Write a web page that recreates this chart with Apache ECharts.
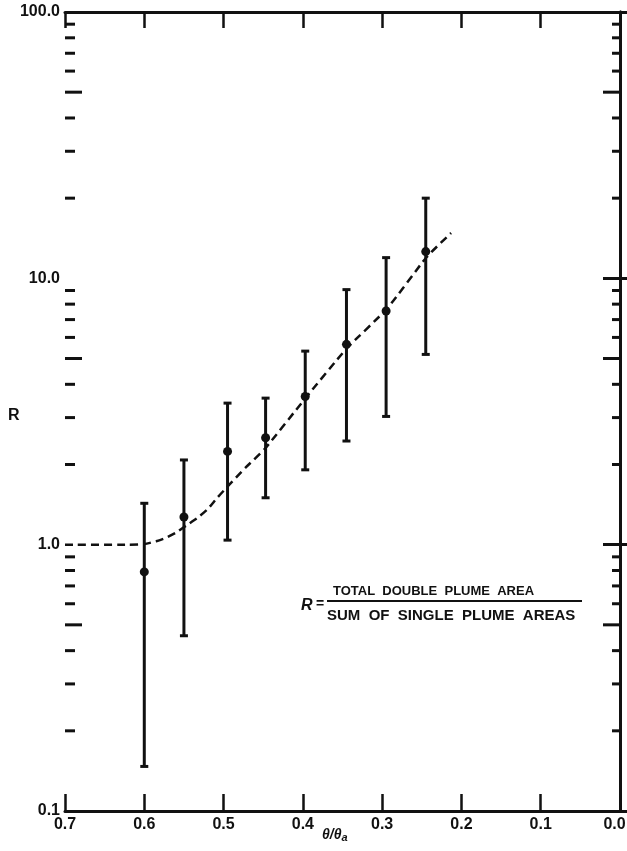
<!DOCTYPE html>
<html>
<head>
<meta charset="utf-8">
<script src="https://cdn.jsdelivr.net/npm/echarts@6/dist/echarts.min.js"></script>
<style>
  html, body { margin: 0; padding: 0; background: #fff; }
  #chart { width: 627px; height: 851px; }
</style>
</head>
<body>
<div id="chart"></div>
<script>
// data points, theta/theta_a vs R, with error bars
var thetaRatio = [0.6, 0.55, 0.495, 0.447, 0.397, 0.345, 0.295, 0.245]
var rValue = [0.79, 1.27, 2.24, 2.52, 3.6, 5.65, 7.54, 12.6]
var rHigh = [1.43, 2.08, 3.40, 3.55, 5.33, 9.07, 11.96, 20.0]
var rLow = [0.147, 0.455, 1.04, 1.50, 1.91, 2.45, 3.03, 5.18]

// dashed fit curve
var curveX = [0.7, 0.62, 0.6, 0.585, 0.573, 0.56, 0.547, 0.533, 0.52, 0.508, 0.496, 0.472, 0.448, 0.397, 0.345, 0.294, 0.244, 0.213]
var curveY = [1.0, 1.0, 1.005, 1.03, 1.06, 1.11, 1.18, 1.26, 1.36, 1.5, 1.64, 1.95, 2.29, 3.54, 5.44, 7.69, 12.0, 14.8]

// log axis ticks between decades
var minorTicks = [0.2, 0.3, 0.4, 0.6, 0.7, 0.8, 0.9, 2, 3, 4, 6, 7, 8, 9, 20, 30, 40, 60, 70, 80, 90]
var halfTicks = [0.5, 5, 50]

var X_MIN = 0
var X_MAX = 0.7
var INK = '#111'
var FONT = 'Liberation Sans'

var chart = echarts.init(document.getElementById('chart'))

function tickSeries (vals, lenLeft, lenRight) {
  return {
    type: 'custom',
    silent: true,
    clip: false,
    data: vals.map(function (v) { return [X_MAX, v] }),
    renderItem: function (params, api) {
      var v = api.value(1)
      var pl = api.coord([X_MAX, v])
      var pr = api.coord([X_MIN, v])
      var st = { stroke: INK, lineWidth: 3 }
      return {
        type: 'group',
        children: [
          { type: 'line', shape: { x1: pl[0], y1: pl[1], x2: pl[0] + lenLeft, y2: pl[1] }, style: st },
          { type: 'line', shape: { x1: pr[0], y1: pr[1], x2: pr[0] - lenRight, y2: pr[1] }, style: st }
        ]
      }
    }
  }
}

var errData = thetaRatio.map(function (x, i) { return [x, rLow[i], rHigh[i]] })

chart.setOption({
  animation: false,
  grid: { left: 65, right: 7, top: 12, bottom: 40, outerBoundsMode: 'none', containLabel: false },
  xAxis: [
    {
      type: 'value',
      inverse: true,
      min: X_MIN,
      max: X_MAX,
      interval: 0.1,
      axisLine: { lineStyle: { color: INK, width: 3 } },
      axisTick: { inside: true, length: 17, lineStyle: { color: INK, width: 2.5 } },
      axisLabel: {
        color: INK, fontSize: 16, fontWeight: 'bold', fontFamily: FONT, margin: 6,
        formatter: function (v) {
          return v === 0 ? '{r|0.0}' : v.toFixed(1)
        },
        rich: {
          r: { color: INK, fontSize: 16, fontWeight: 'bold', fontFamily: FONT, padding: [0, 11, 0, 0] }
        }
      },
      splitLine: { show: false }
    },
    {
      type: 'value',
      position: 'top',
      inverse: true,
      min: X_MIN,
      max: X_MAX,
      interval: 0.1,
      axisLine: { lineStyle: { color: INK, width: 3 } },
      axisTick: { inside: true, length: 16, lineStyle: { color: INK, width: 2.5 } },
      axisLabel: { show: false },
      splitLine: { show: false }
    }
  ],
  yAxis: [
    {
      type: 'log',
      logBase: 10,
      min: 0.1,
      max: 100,
      axisLine: { lineStyle: { color: INK, width: 3 } },
      axisTick: { inside: true, length: 17, lineStyle: { color: INK, width: 3 } },
      axisLabel: {
        color: INK, fontSize: 16, fontWeight: 'bold', fontFamily: FONT, margin: 5,
        formatter: function (v) { return Number(v).toFixed(1) }
      },
      splitLine: { show: false }
    },
    {
      type: 'log',
      logBase: 10,
      min: 0.1,
      max: 100,
      position: 'right',
      axisLine: { lineStyle: { color: INK, width: 3 } },
      axisTick: { inside: true, length: 17, lineStyle: { color: INK, width: 3 } },
      axisLabel: { show: false },
      splitLine: { show: false }
    }
  ],
  series: [
    tickSeries(minorTicks, 10, 8),
    tickSeries(halfTicks, 17, 17),
    {
      type: 'line',
      data: curveX.map(function (x, i) { return [x, curveY[i]] }),
      smooth: 0.2,
      symbol: 'none',
      lineStyle: { color: INK, width: 2.5, type: [8, 5] },
      z: 3
    },
    {
      type: 'custom',
      data: errData,
      clip: false,
      z: 4,
      renderItem: function (params, api) {
        var x = api.value(0)
        var pLo = api.coord([x, api.value(1)])
        var pHi = api.coord([x, api.value(2)])
        var st = { stroke: INK, lineWidth: 3 }
        return {
          type: 'group',
          children: [
            { type: 'line', shape: { x1: pLo[0], y1: pLo[1], x2: pHi[0], y2: pHi[1] }, style: st },
            { type: 'line', shape: { x1: pHi[0] - 4, y1: pHi[1], x2: pHi[0] + 4, y2: pHi[1] }, style: st },
            { type: 'line', shape: { x1: pLo[0] - 4, y1: pLo[1], x2: pLo[0] + 4, y2: pLo[1] }, style: st }
          ]
        }
      }
    },
    {
      type: 'scatter',
      data: thetaRatio.map(function (x, i) { return [x, rValue[i]] }),
      symbol: 'circle',
      symbolSize: 9,
      itemStyle: { color: INK, opacity: 1 },
      z: 5
    }
  ],
  graphic: [
    {
      type: 'text', left: 8, top: 408,
      style: { text: 'R', fill: INK, font: 'bold 16px "Liberation Sans"' }
    },
    {
      type: 'text', left: 322, top: 828,
      style: {
        text: '{m|θ/θ}{s|a}',
        rich: {
          m: { fill: INK, font: 'italic bold 14px "Liberation Sans"' },
          s: { fill: INK, font: 'italic bold 11px "Liberation Sans"', padding: [6, 0, 0, 0] }
        }
      }
    },
    {
      type: 'text', left: 301, top: 598,
      style: { text: 'R', fill: INK, font: 'italic bold 16px "Liberation Sans"' }
    },
    {
      type: 'text', left: 316, top: 597,
      style: { text: '=', fill: INK, font: 'bold 14px "Liberation Sans"' }
    },
    {
      type: 'text', left: 333, top: 585,
      style: { text: 'TOTAL  DOUBLE  PLUME  AREA', fill: INK, font: 'bold 13px "Liberation Sans"' }
    },
    {
      type: 'line', shape: { x1: 327, y1: 601, x2: 582, y2: 601 },
      style: { stroke: INK, lineWidth: 2 }
    },
    {
      type: 'text', left: 327, top: 608,
      style: { text: 'SUM  OF  SINGLE  PLUME  AREAS', fill: INK, font: 'bold 15px "Liberation Sans"' }
    }
  ]
})
</script>
</body>
</html>
